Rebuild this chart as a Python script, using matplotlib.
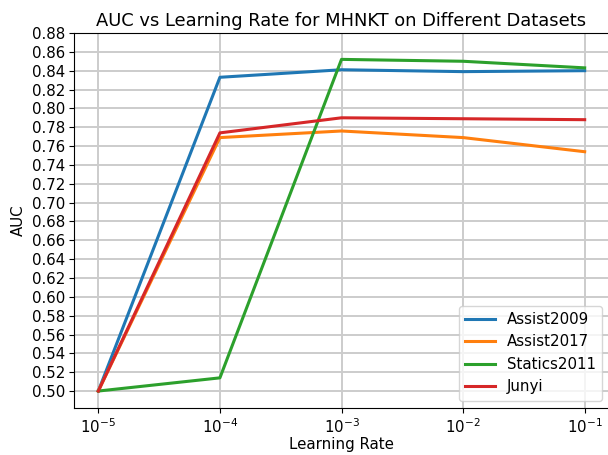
import matplotlib
matplotlib.use("Agg")
import matplotlib.pyplot as plt
import numpy as np

learning_rates = [1e-5, 1e-4, 1e-3, 1e-2, 1e-1]
assist2009 = [0.500, 0.833, 0.841, 0.839, 0.840]
assist2017 = [0.500, 0.769, 0.776, 0.769, 0.754]
statics2011 = [0.500, 0.514, 0.852, 0.850, 0.843]
junyi = [0.500, 0.774, 0.790, 0.789, 0.788]
series_names = ["Assist2009", "Assist2017", "Statics2011", "Junyi"]
colors = ["#1f77b4", "#ff7f0e", "#2ca02c", "#d62728"]
yticks = np.round(np.arange(0.50, 0.881, 0.02), 2)

fig = plt.figure(figsize=(6.08, 4.55), dpi=100)
ax = fig.add_axes([74/608, 1 - 408/455, (609 - 74)/608, (408 - 33)/455])

for name, vals, c in zip(series_names, [assist2009, assist2017, statics2011, junyi], colors):
    ax.plot(learning_rates, vals, color=c, linewidth=2.2, label=name)

ax.set_xscale("log")
ax.set_xlim(10**-5.2, 10**-0.8)
ax.set_ylim(0.482, 0.88)
ax.set_yticks(yticks)
ax.set_yticklabels([f"{t:.2f}" for t in yticks])
ax.set_xticks(learning_rates)
ax.minorticks_off()
ax.tick_params(labelsize=10.8, pad=3)
ax.grid(True, color="#cccccc", linewidth=1.4)
ax.set_axisbelow(True)
ax.set_xlabel("Learning Rate", fontsize=10.8, labelpad=1)
ax.set_ylabel("AUC", fontsize=10.8)
ax.set_title("AUC vs Learning Rate for MHNKT on Different Datasets", fontsize=12.9, pad=5)
ax.legend(loc="lower right", fontsize=10.8)

fig.savefig("out.png", dpi=100)
